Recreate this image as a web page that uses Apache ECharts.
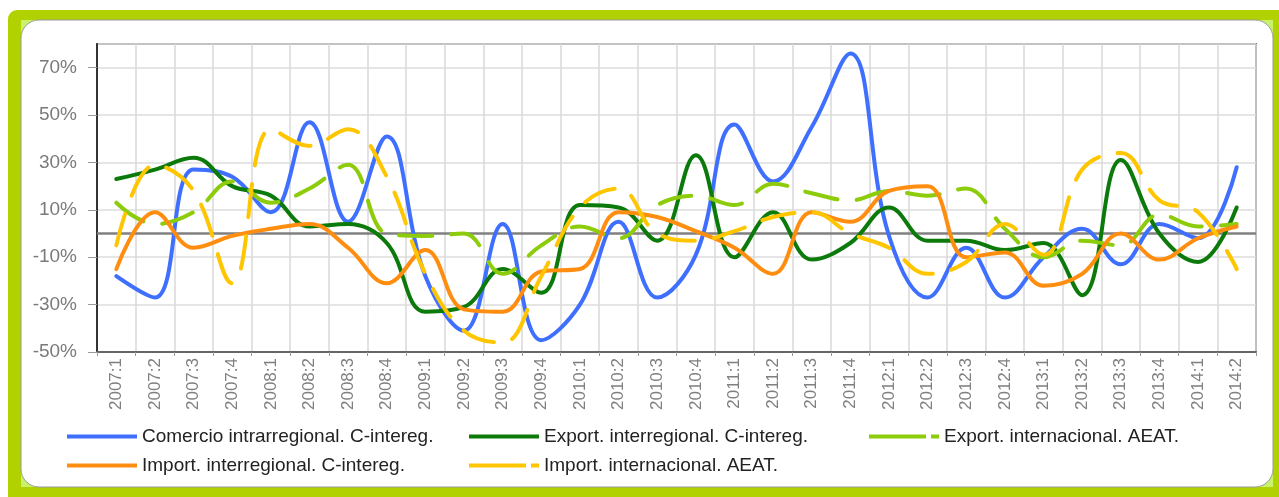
<!DOCTYPE html>
<html>
<head>
<meta charset="utf-8">
<style>
html,body{margin:0;padding:0;background:#ffffff;}
#chart{width:1279px;height:497px;}
</style>
<script src="https://cdn.jsdelivr.net/npm/echarts@6/dist/echarts.min.js"></script>
</head>
<body>
<div id="chart"></div>
<script>
var categories = ['2007:1','2007:2','2007:3','2007:4','2008:1','2008:2','2008:3','2008:4','2009:1','2009:2','2009:3','2009:4','2010:1','2010:2','2010:3','2010:4','2011:1','2011:2','2011:3','2011:4','2012:1','2012:2','2012:3','2012:4','2013:1','2013:2','2013:3','2013:4','2014:1','2014:2'];

var comercioIntrarregional = [-18,-27,27,24,9,47,5,41,-18,-41,4,-45,-30,5,-27,-9,46,22,45,76,-1,-27,-6,-27,-10,2,-13,4,-2,28];
var exportInterregional   = [23,27,32,20,16,3,4,-4,-33,-31,-15,-25,12,11,-3,33,-10,9,-11,-4,11,-3,-3,-7,-4,-26,31,0,-12,11];
var exportInternacional   = [13,4,9,22,13,19,29,0,-1,0,-17,-5,3,-2,12,16,12,21,17,14,18,16,19,2,-10,-3,-5,8,3,4];
var importInterregional   = [-15,9,-6,-1,2,4,-6,-21,-7,-32,-33,-16,-15,9,7,1,-6,-17,9,5,18,20,-10,-8,-22,-17,0,-11,-2,3];
var importInternacional   = [-5,29,18,-21,44,37,44,24,-17,-41,-46,-18,11,19,0,-3,1,7,9,0,-6,-17,-12,4,-9,27,34,14,9,-15];

var seriesNames = ['Comercio intrarregional. C-intereg.','Export. interregional. C-intereg.','Export. internacional. AEAT.','Import. interregional. C-intereg.','Import. internacional. AEAT.'];
var yTicks = {min:-50, max:80, interval:20};
var zeroLine = 0;

var FONT = "'Liberation Sans', Arial, sans-serif";
var colors = ['#3f6fff','#0b7a0b','#8dcc0a','#ff8e10','#ffc600'];
var dash = [33,19];

function mkSeries(i, data, dashed){
  return {
    name: seriesNames[i], type:'line', data:data, smooth:0.4,
    symbol:'none', showSymbol:false,
    lineStyle:{color:colors[i], width:4, type: dashed ? dash : 'solid', cap:'round'},
    itemStyle:{color:colors[i]},
    z: 2 + i*0.1
  };
}

var series = [
  mkSeries(0, comercioIntrarregional, false),
  mkSeries(1, exportInterregional, false),
  mkSeries(2, exportInternacional, true),
  mkSeries(3, importInterregional, false),
  mkSeries(4, importInternacional, true)
];
series[0].markLine = {
  silent:true, symbol:['none','none'], z:1,
  label:{show:false},
  lineStyle:{color:'#808080', width:2.5, type:'solid'},
  data:[{yAxis: zeroLine}]
};

var solidIcon = 'path://M0,0h70v4h-70z';
var dashIcon = 'path://M0,0h57v4h-57z M62,0h8v4h-8z';

function mkLegend(i, left, top, dashed){
  return {
    data:[{name:seriesNames[i], icon: dashed ? dashIcon : solidIcon}],
    left:left, top:top, padding:0,
    itemWidth:70, itemHeight:4, selectedMode:false,
    itemStyle:{color:colors[i], borderWidth:0},
    textStyle:{fontSize:19, color:'#222', fontFamily:FONT}
  };
}

var option = {
  backgroundColor:'transparent',
  animation:false,
  graphic:[
    {type:'rect', z:-10, silent:true, shape:{x:8,y:10,width:1271,height:487,r:[9,0,0,0]}, style:{fill:'#b1d100'}},
    {type:'rect', z:-9, silent:true, shape:{x:21,y:20,width:1252,height:467,r:0}, style:{fill:'#c8f26a'}},
    {type:'rect', z:-8, silent:true, shape:{x:21,y:20,width:1252,height:467,r:18}, style:{fill:'#ffffff', stroke:'#9a9a9a', lineWidth:1}}
  ],
  grid:{left:97, right:23, top:44, bottom:145, show:true, backgroundColor:'#ffffff', borderColor:'#7a7a7a', borderWidth:2},
  legend:[
    mkLegend(0, 67, 427, false),
    mkLegend(1, 469, 427, false),
    mkLegend(2, 869, 427, true),
    mkLegend(3, 67, 456, false),
    mkLegend(4, 469, 456, true)
  ],
  xAxis:{
    type:'category', data:categories, boundaryGap:true,
    axisLine:{show:true, onZero:false, lineStyle:{color:'#666', width:2}},
    axisTick:{show:true, length:4, lineStyle:{color:'#999'}},
    axisLabel:{rotate:90, fontSize:17, color:'#7f7f7f', margin:6, fontFamily:FONT, interval:0},
    splitLine:{show:true, lineStyle:{color:'#d9d9d9', width:1.5}}
  },
  yAxis:{
    type:'value', min:yTicks.min, max:yTicks.max, interval:yTicks.interval,
    axisLine:{show:true, lineStyle:{color:'#333', width:2}},
    axisTick:{show:true, length:9, lineStyle:{color:'#999'}},
    axisLabel:{formatter:'{value}%', fontSize:19, color:'#7a7a7a', margin:20, fontFamily:FONT, showMaxLabel:false},
    splitLine:{show:true, lineStyle:{color:'#dcdcdc', width:1.5}}
  },
  series:series
};

var chart = echarts.init(document.getElementById('chart'), null, {renderer:'canvas'});
chart.setOption(option);
</script>
</body>
</html>
